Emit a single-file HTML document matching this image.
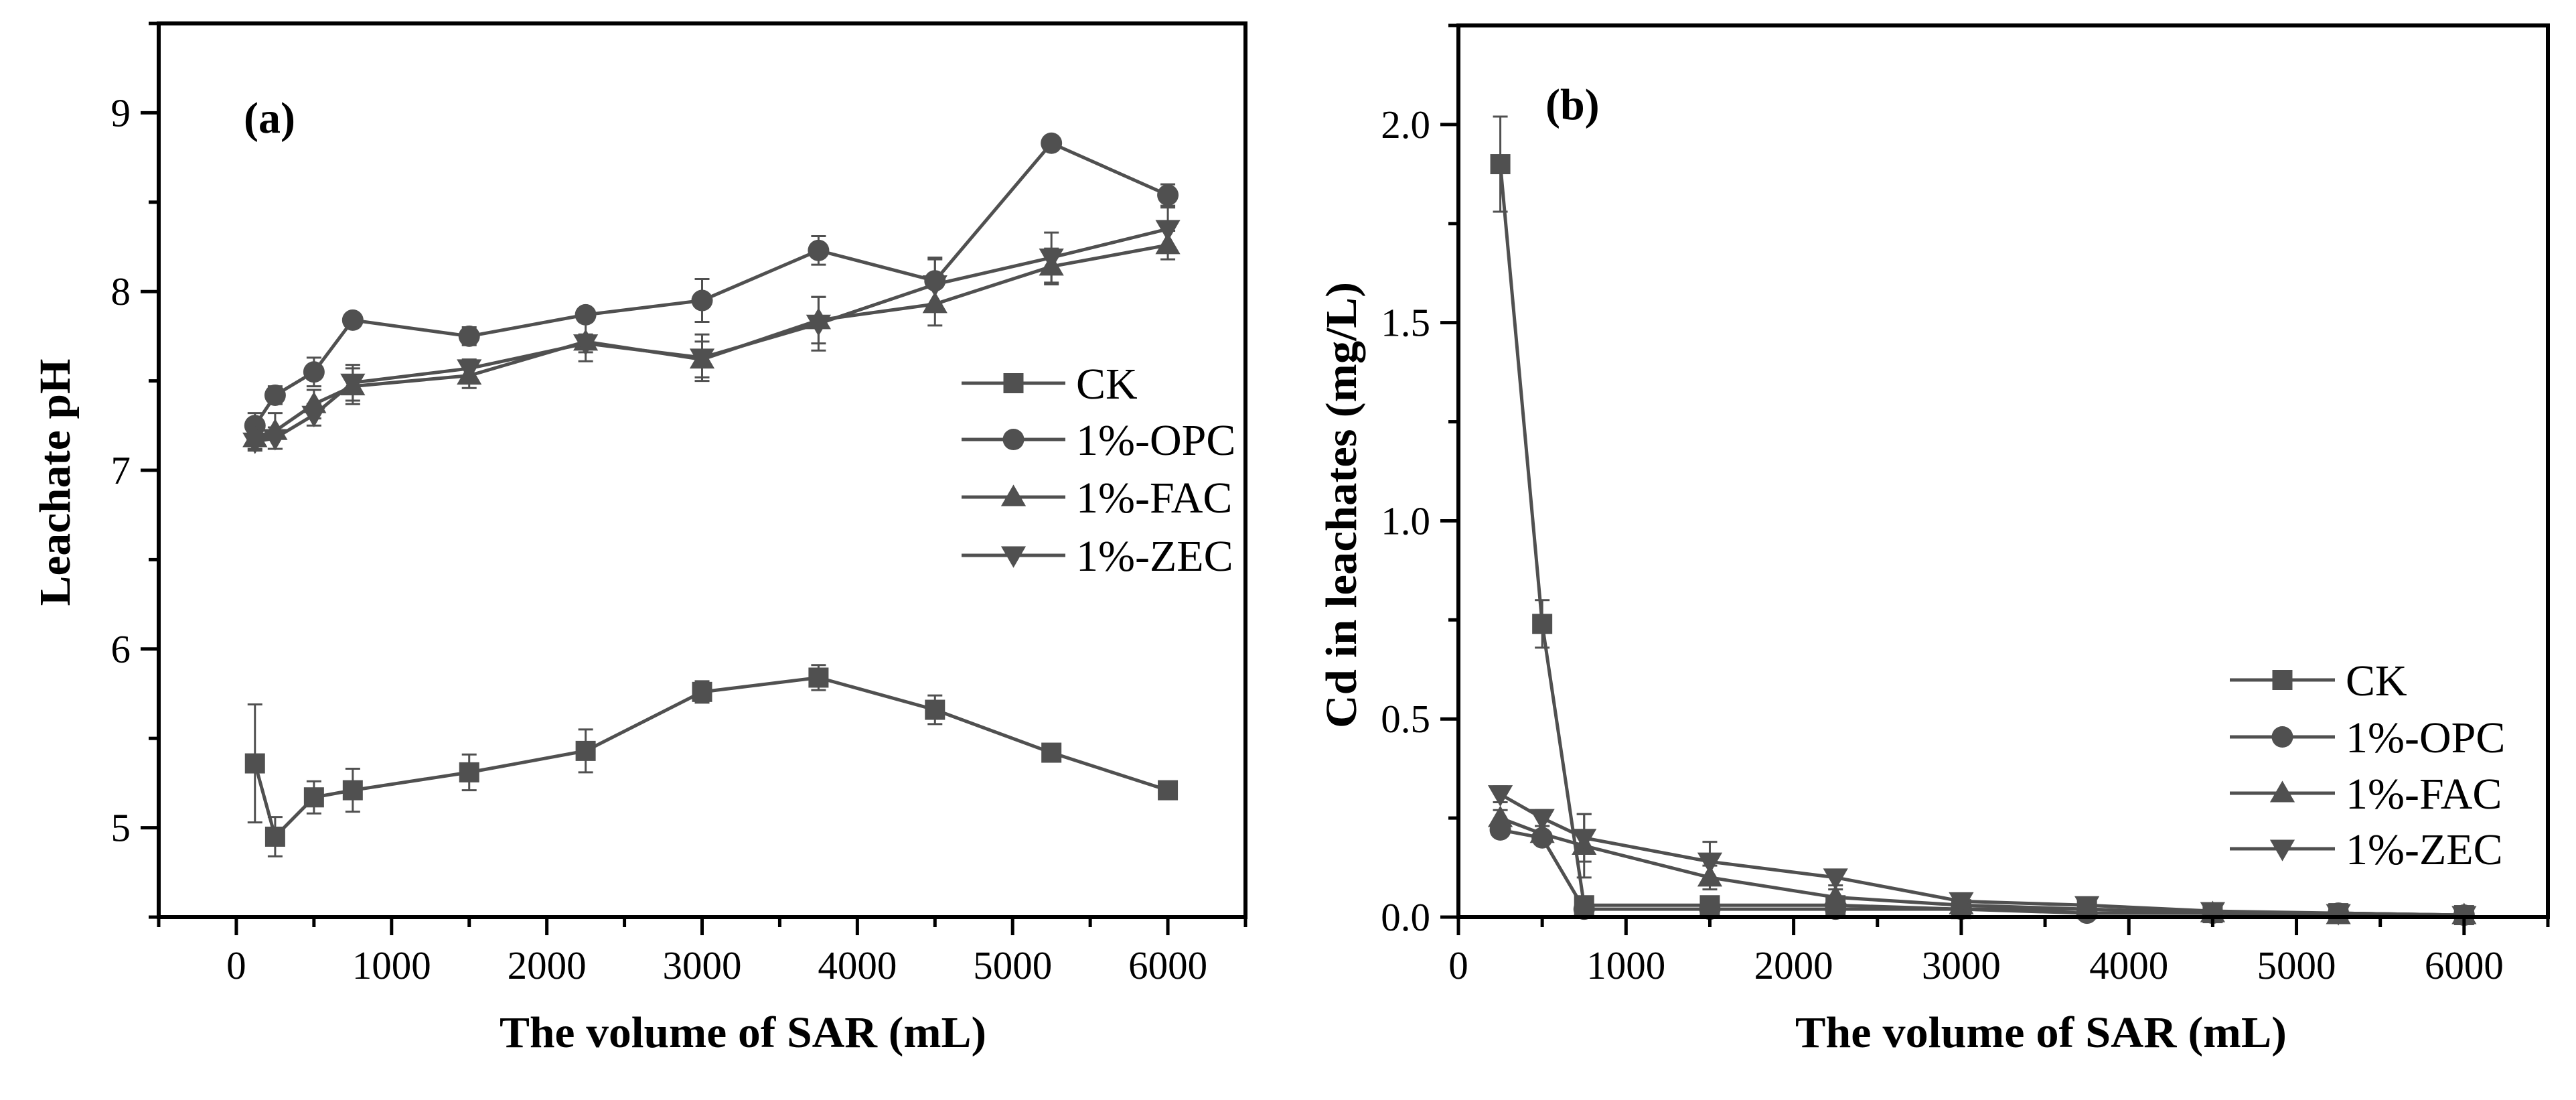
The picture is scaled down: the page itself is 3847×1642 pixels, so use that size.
<!DOCTYPE html>
<html><head><meta charset="utf-8"><style>
html,body{margin:0;padding:0;background:#fff;}
svg{display:block;}
text{font-family:"Liberation Serif",serif;fill:#000;}
</style></head><body>
<svg id="fig" width="3847" height="1642" viewBox="0 0 3847 1642"></svg>
<script>
// ---- Panel (a) data: leachate pH ----
const xA = [120, 250, 500, 750, 1500, 2250, 3000, 3750, 4500, 5250, 6000];
const phCK  = [5.36, 4.95, 5.17, 5.21, 5.31, 5.43, 5.76, 5.84, 5.66, 5.42, 5.21];
const phCKe = [0.33, 0.11, 0.09, 0.12, 0.10, 0.12, 0.06, 0.07, 0.08, 0.03, 0.03];
const phOPC  = [7.25, 7.42, 7.55, 7.84, 7.75, 7.87, 7.95, 8.23, 8.06, 8.83, 8.54];
const phOPCe = [0.07, 0.05, 0.08, 0.03, 0.05, 0.03, 0.12, 0.08, 0.13, 0.03, 0.06];
const phFAC  = [7.18, 7.22, 7.37, 7.47, 7.53, 7.72, 7.62, 7.84, 7.93, 8.14, 8.26];
const phFACe = [0.06, 0.10, 0.08, 0.10, 0.07, 0.11, 0.10, 0.13, 0.12, 0.10, 0.08];
const phZEC  = [7.16, 7.18, 7.31, 7.49, 7.57, 7.71, 7.63, 7.82, 8.04, 8.19, 8.35];
const phZECe = [0.05, 0.06, 0.06, 0.10, 0.05, 0.05, 0.13, 0.15, 0.14, 0.14, 0.12];
const yTicksA = [5, 6, 7, 8, 9];
const xTicks = [0, 1000, 2000, 3000, 4000, 5000, 6000];
// ---- Panel (b) data: Cd in leachates ----
const xB = [250, 500, 750, 1500, 2250, 3000, 3750, 4500, 5250, 6000];
const cdCK  = [1.90, 0.74, 0.03, 0.03, 0.03, 0.02, 0.02, 0.01, 0.01, 0.005];
const cdCKe = [0.12, 0.06, 0.01, 0.01, 0.01, 0.005, 0.005, 0.005, 0.005, 0.003];
const cdOPC  = [0.22, 0.20, 0.02, 0.02, 0.02, 0.02, 0.01, 0.01, 0.01, 0.005];
const cdOPCe = [0.01, 0.01, 0.005, 0.005, 0.005, 0.005, 0.005, 0.003, 0.003, 0.003];
const cdFAC  = [0.25, 0.21, 0.18, 0.10, 0.05, 0.03, 0.02, 0.01, 0.005, 0.005];
const cdFACe = [0.02, 0.02, 0.08, 0.03, 0.02, 0.01, 0.01, 0.005, 0.003, 0.003];
const cdZEC  = [0.31, 0.25, 0.20, 0.14, 0.10, 0.04, 0.03, 0.015, 0.01, 0.005];
const cdZECe = [0.02, 0.02, 0.06, 0.05, 0.02, 0.01, 0.01, 0.005, 0.003, 0.003];
const yTicksB = [0.0, 0.5, 1.0, 1.5, 2.0];
const seriesNames = ["CK", "1%-OPC", "1%-FAC", "1%-ZEC"];
const markerTypes = ["square", "circle", "up", "down"];

const NS = "http://www.w3.org/2000/svg";
const svg = document.getElementById("fig");
const COL = "#505050";
function el(tag, attrs, parent) {
  const e = document.createElementNS(NS, tag);
  for (const k in attrs) e.setAttribute(k, attrs[k]);
  (parent || svg).appendChild(e);
  return e;
}
function marker(g, type, cx, cy, s) {
  let m;
  if (type === "square") m = el("rect", {x: cx - s/2, y: cy - s/2, width: s, height: s, fill: COL}, g);
  else if (type === "circle") m = el("circle", {cx: cx, cy: cy, r: s/2 + 1, fill: COL}, g);
  else if (type === "up") m = el("polygon", {points: `${cx},${cy - s*0.62} ${cx - s*0.62},${cy + s*0.45} ${cx + s*0.62},${cy + s*0.45}`, fill: COL}, g);
  else m = el("polygon", {points: `${cx},${cy + s*0.62} ${cx - s*0.62},${cy - s*0.45} ${cx + s*0.62},${cy - s*0.45}`, fill: COL}, g);
  return m;
}
function panel(cfg) {
  const {L, R, T, B, xmin, xmax, ymin, ymax} = cfg;
  const sx = v => L + (v - xmin) / (xmax - xmin) * (R - L);
  const sy = v => B - (v - ymin) / (ymax - ymin) * (B - T);
  const g = el("g", {});
  
  
  cfg.series.forEach((s, i) => {
    const sg = el("g", {}, g);
    
    
    const pts = s.y.map((v, j) => sx(cfg.x[j]) + "," + sy(v)).join(" ");
    el("polyline", {points: pts, fill: "none", stroke: COL, "stroke-width": 5}, sg);
    s.y.forEach((v, j) => {
      const cx = sx(cfg.x[j]), top = sy(v + s.e[j]), bot = sy(Math.max(v - s.e[j], ymin));
      const eb = el("path", {d: `M${cx},${top}V${bot}M${cx-11},${top}H${cx+11}M${cx-11},${bot}H${cx+11}`, stroke: COL, "stroke-width": 3, fill: "none"}, sg);
      
      
      const m = marker(sg, markerTypes[i], cx, sy(v), 30);
      
      
    });
  });
  const fr = el("rect", {x: L, y: T, width: R - L, height: B - T, fill: "none", stroke: "#000", "stroke-width": 6}, g);
  
  
  for (let v = xmin; v <= xmax + 1e-6; v += 500) {
    const major = xTicks.includes(v);
    el("line", {x1: sx(v), x2: sx(v), y1: B, y2: B + (major ? 27 : 15), stroke: "#000", "stroke-width": 5}, g);
  }
  xTicks.forEach(v => {
    const t = el("text", {x: sx(v), y: B + 92, "font-size": 59, "text-anchor": "middle"}, g);
    t.textContent = v;
    
    
  });
  const step = cfg.yStep / 2;
  for (let v = ymin; v <= ymax + 1e-6; v += step) {
    const major = cfg.yTicks.some(t => Math.abs(t - v) < 1e-6);
    el("line", {x1: L, x2: L - (major ? 27 : 15), y1: sy(v), y2: sy(v), stroke: "#000", "stroke-width": 5}, g);
  }
  cfg.yTicks.forEach(v => {
    const t = el("text", {x: L - 42, y: sy(v) + 20, "font-size": 59, "text-anchor": "end"}, g);
    t.textContent = cfg.yFmt(v);
    
    
  });
  const xt = el("text", {x: (cfg.xtL + cfg.xtR)/2, y: 1563, "font-size": 66, "font-weight": "bold", "text-anchor": "middle", textLength: cfg.xtR - cfg.xtL, lengthAdjust: "spacingAndGlyphs"}, g);
  xt.textContent = "The volume of SAR (mL)";
  
  
  const yt = el("text", {x: 0, y: 0, "font-size": 66, "font-weight": "bold", "text-anchor": "middle", textLength: cfg.ytLen, lengthAdjust: "spacingAndGlyphs", transform: `translate(${cfg.ytX},${cfg.ytY}) rotate(-90)`}, g);
  yt.textContent = cfg.ytitle;
  
  
  const pl = el("text", {x: cfg.plX, y: cfg.plY, "font-size": 66, "font-weight": "bold"}, g);
  pl.textContent = cfg.label;
  
  
  const lg = el("g", {}, g);
  
  
  seriesNames.forEach((n, i) => {
    const y = cfg.legY[i];
    const eg = el("g", {}, lg);
    
    
    el("line", {x1: cfg.legX1, x2: cfg.legX2, y1: y, y2: y, stroke: COL, "stroke-width": 5}, eg);
    marker(eg, markerTypes[i], (cfg.legX1 + cfg.legX2)/2, y, 30);
    const t = el("text", {x: cfg.legX2 + 16, y: y + 23, "font-size": 66}, eg);
    t.textContent = n;
  });
}
panel({name: "panel-a-ph", L: 237, R: 1860, T: 35, B: 1369, xmin: -500, xmax: 6500, ymin: 4.5, ymax: 9.5,
  x: xA, yTicks: yTicksA, yStep: 1, yFmt: v => String(v),
  series: [{y: phCK, e: phCKe}, {y: phOPC, e: phOPCe}, {y: phFAC, e: phFACe}, {y: phZEC, e: phZECe}],
  xtL: 746, xtR: 1473, ytitle: "Leachate pH", ytX: 104, ytY: 720, ytLen: 369,
  label: "(a)", plX: 364, plY: 198, legX1: 1436, legX2: 1591, legY: [572, 656, 742, 829]});
panel({name: "panel-b-cd", L: 2178, R: 3805, T: 38, B: 1369, xmin: 0, xmax: 6500, ymin: 0, ymax: 2.25,
  x: xB, yTicks: yTicksB, yStep: 0.5, yFmt: v => v.toFixed(1),
  series: [{y: cdCK, e: cdCKe}, {y: cdOPC, e: cdOPCe}, {y: cdFAC, e: cdFACe}, {y: cdZEC, e: cdZECe}],
  xtL: 2681, xtR: 3415, ytitle: "Cd in leachates (mg/L)", ytX: 2025, ytY: 754, ytLen: 666,
  label: "(b)", plX: 2308, plY: 178, legX1: 3330, legX2: 3487, legY: [1015, 1100, 1184, 1267]});
</script>
</body></html>
